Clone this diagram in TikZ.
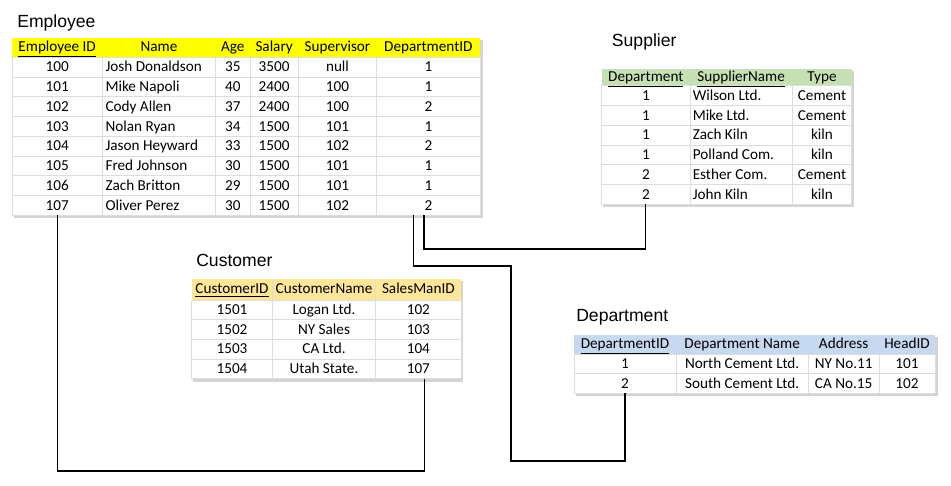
\documentclass[tikz,border=0pt]{standalone}
\usepackage{fontspec}
\setmainfont{Carlito}
\newfontfamily\titlefont{Liberation Sans}
\usetikzlibrary{calc}
\definecolor{gridc}{HTML}{DDDDDD}
\definecolor{shadowc}{HTML}{D4D4D4}
\definecolor{hyellow}{HTML}{FFFF00}
\definecolor{hgreen}{HTML}{C6E0B4}
\definecolor{horange}{HTML}{FFE699}
\definecolor{hblue}{HTML}{C6D9F0}
\newcommand\bodycell[5]{%
  \node[cellbox, minimum width={(#3-#2)*0.75pt}, minimum height={(#5-#4)*0.75pt}] (#1) at (#2,#4) {};}
\newcommand\headcell[6]{%
  \node[headbox, fill=#6, minimum width={(#3-#2)*0.75pt}, minimum height={(#5-#4)*0.75pt}] (#1) at (#2,#4) {};}
\tikzset{
  cellbox/.style={draw=gridc, line width=0.5pt, fill=white, inner sep=0pt, anchor=north west, outer sep=0pt},
  headbox/.style={draw=none, inner sep=0pt, anchor=north west, outer sep=0pt},
  txt/.style={font=\fontsize{11.4pt}{13pt}\selectfont, inner sep=0pt, text height=8.6pt, text depth=1.4pt},
  htxt/.style={txt, text height=8.2pt, text depth=1.8pt},
  ttl/.style={font=\titlefont\fontsize{13.2pt}{15pt}\selectfont, inner sep=0pt, anchor=base west},
  shad/.style={fill=shadowc},
  conn/.style={draw=black, line width=0.95pt},
}
\begin{document}
\begin{tikzpicture}[x=0.75pt,y=-0.75pt]
\useasboundingbox[fill=white] (0,0) rectangle (951,486);

% ---------------- Employee ----------------
\node[ttl] (empTitle) at (17,27) {Employee};
\fill[shad] (13.5,40) rectangle (482.5,218);
\headcell{eh1}{12}{102.3}{38}{57.3}{hyellow}
\headcell{eh2}{102.3}{215.7}{38}{57.3}{hyellow}
\headcell{eh3}{215.7}{250}{38}{57.3}{hyellow}
\headcell{eh4}{250}{298.3}{38}{57.3}{hyellow}
\headcell{eh5}{298.3}{376.7}{38}{57.3}{hyellow}
\headcell{eh6}{376.7}{480}{38}{57.3}{hyellow}
\foreach \a/\b/\c/\d/\e/\f [count=\r] in {100/Josh Donaldson/35/3500/null/1,101/Mike Napoli/40/2400/100/1,102/Cody Allen/37/2400/100/2,103/Nolan Ryan/34/1500/101/1,104/Jason Heyward/33/1500/102/2,105/Fred Johnson/30/1500/101/1,106/Zach Britton/29/1500/101/1,107/Oliver Perez/30/1500/102/2}{
  \pgfmathsetmacro\ya{57.3+(\r-1)*19.75}
  \pgfmathsetmacro\yb{\ya+19.75}
  \bodycell{emp-\r-1}{12}{102.3}{\ya}{\yb}
  \bodycell{emp-\r-2}{102.3}{215.7}{\ya}{\yb}
  \bodycell{emp-\r-3}{215.7}{250}{\ya}{\yb}
  \bodycell{emp-\r-4}{250}{298.3}{\ya}{\yb}
  \bodycell{emp-\r-5}{298.3}{376.7}{\ya}{\yb}
  \bodycell{emp-\r-6}{376.7}{480}{\ya}{\yb}
  \node[txt] at (emp-\r-1) {\a};
  \node[txt, anchor=west] at ($(emp-\r-2.west)+(3,0)$) {\b};
  \node[txt] at (emp-\r-3) {\c};
  \node[txt] at (emp-\r-4) {\d};
  \node[txt] at (emp-\r-5) {\e};
  \node[txt] at (emp-\r-6) {\f};
}
\node[htxt] at (eh1) {\underline{Employee ID}};
\node[htxt] at (eh2) {Name};
\node[htxt] at (eh3) {Age};
\node[htxt] at (eh4) {Salary};
\node[htxt] at (eh5) {Supervisor};
\node[htxt] at (eh6) {DepartmentID};

% ---------------- Supplier ----------------
\node[ttl] (supTitle) at (611.7,46.7) {Supplier};
\fill[shad] (603.2,71.3) rectangle (854,207);
\headcell{sh1}{601.7}{690}{69.3}{85.7}{hgreen}
\headcell{sh2}{690}{792.3}{69.3}{85.7}{hgreen}
\headcell{sh3}{792.3}{851.7}{69.3}{85.7}{hgreen}
\foreach \a/\b/\c [count=\r] in {1/Wilson Ltd./Cement,1/Mike Ltd./Cement,1/Zach Kiln/kiln,1/Polland Com./kiln,2/Esther Com./Cement,2/John Kiln/kiln}{
  \pgfmathsetmacro\ya{85.7+(\r-1)*19.77}
  \pgfmathsetmacro\yb{\ya+19.77}
  \bodycell{sup-\r-1}{601.7}{690}{\ya}{\yb}
  \bodycell{sup-\r-2}{690}{792.3}{\ya}{\yb}
  \bodycell{sup-\r-3}{792.3}{851.7}{\ya}{\yb}
  \node[txt] at (sup-\r-1) {\a};
  \node[txt, anchor=west] at ($(sup-\r-2.west)+(2.5,0)$) {\b};
  \node[txt] at (sup-\r-3) {\c};
}
\node[htxt] at (sh1) {\underline{Department}};
\node[htxt] at (sh2) {\underline{SupplierName}};
\node[htxt] at (sh3) {Type};

% ---------------- Customer ----------------
\node[ttl] (custTitle) at (196,266.7) {Customer};
\fill[shad] (193.2,281.3) rectangle (463,381.5);
\headcell{ch1}{191.7}{272.3}{279.3}{300}{horange}
\headcell{ch2}{272.3}{375.7}{279.3}{300}{horange}
\headcell{ch3}{375.7}{461}{279.3}{300}{horange}
\draw[gridc, line width=0.4pt] (272.3,279.3) -- (272.3,300) (375.7,279.3) -- (375.7,300);
\foreach \a/\b/\c [count=\r] in {1501/Logan Ltd./102,1502/NY Sales/103,1503/CA Ltd./104,1504/Utah State./107}{
  \pgfmathsetmacro\ya{300+(\r-1)*19.67}
  \pgfmathsetmacro\yb{\ya+19.67}
  \bodycell{cust-\r-1}{191.7}{272.3}{\ya}{\yb}
  \bodycell{cust-\r-2}{272.3}{375.7}{\ya}{\yb}
  \bodycell{cust-\r-3}{375.7}{461}{\ya}{\yb}
  \node[txt] at (cust-\r-1) {\a};
  \node[txt] at (cust-\r-2) {\b};
  \node[txt] at (cust-\r-3) {\c};
}
\node[htxt] at (ch1) {\underline{CustomerID}};
\node[htxt] at (ch2) {CustomerName};
\node[htxt] at (ch3) {SalesManID};

% ---------------- Department ----------------
\node[ttl] (deptTitle) at (576,321) {Department};
\fill[shad] (575.5,337) rectangle (937.5,396);
\headcell{dh1}{574}{676}{335}{354.3}{hblue}
\headcell{dh2}{676}{808.3}{335}{354.3}{hblue}
\headcell{dh3}{808.3}{879}{335}{354.3}{hblue}
\headcell{dh4}{879}{935}{335}{354.3}{hblue}
\foreach \a/\b/\c/\d [count=\r] in {1/North Cement Ltd./NY No.11/101,2/South Cement Ltd./CA No.15/102}{
  \pgfmathsetmacro\ya{354.3+(\r-1)*19.5}
  \pgfmathsetmacro\yb{\ya+19.5}
  \bodycell{dept-\r-1}{574}{676}{\ya}{\yb}
  \bodycell{dept-\r-2}{676}{808.3}{\ya}{\yb}
  \bodycell{dept-\r-3}{808.3}{879}{\ya}{\yb}
  \bodycell{dept-\r-4}{879}{935}{\ya}{\yb}
  \node[txt] at (dept-\r-1) {\a};
  \node[txt] at (dept-\r-2) {\b};
  \node[txt] at (dept-\r-3) {\c};
  \node[txt] at (dept-\r-4) {\d};
}
\node[htxt] at (dh1) {\underline{DepartmentID}};
\node[htxt] at (dh2) {Department Name};
\node[htxt] at (dh3) {Address};
\node[htxt] at (dh4) {HeadID};

% ---------------- Connectors ----------------
\coordinate (y471) at (0,471);
\coordinate (y249) at (0,249);
\coordinate (j1) at (511,266);
\coordinate (j2) at (511,461);
\coordinate (eDa) at ($(emp-8-6.south)+(-15,0)$);
\coordinate (eDb) at ($(emp-8-6.south)+(-4.3,0)$);
\coordinate (cS) at ($(cust-4-3.south)+(6,0)$);
% Customer.SalesManID -> Employee.Employee ID
\draw[conn] (emp-8-1.south) -- (emp-8-1.south |- y471) -| (cS);
% Employee.DepartmentID -> Department.DepartmentID
\draw[conn] (eDa) |- (j1) -- (j2) -| (dept-2-1.south);
% Employee.DepartmentID -> Supplier.Department
\draw[conn] (eDb) -- (eDb |- y249) -| (sup-6-1.south);
\end{tikzpicture}
\end{document}
